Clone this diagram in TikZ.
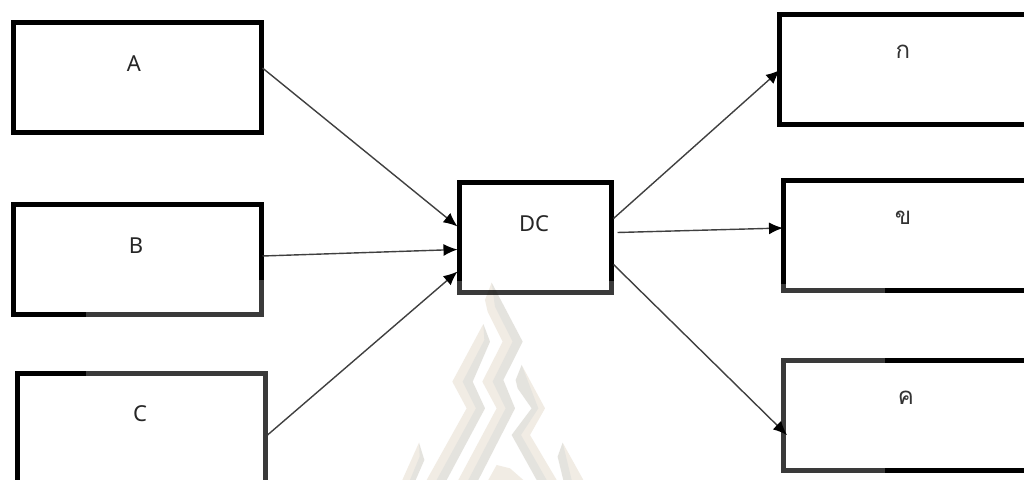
\documentclass[tikz,border=0pt]{standalone}
\usepackage{fontspec}
\setmainfont{Noto Sans}
\newfontfamily\thaifont[Script=Thai]{Loma}
\usetikzlibrary{arrows.meta}
\definecolor{wmbeige}{HTML}{F1ECE4}
\definecolor{wmgray}{HTML}{F2F6F9}
\definecolor{boxdark}{HTML}{3A3A3A}
\tikzset{
  stagebox/.style={draw=black,line width=5pt,fill=white,inner sep=0pt,outer sep=0pt},
  dark edge/.style={draw=boxdark,line width=5pt,line cap=rect},
  tag/.style={inner sep=0pt,font=\fontsize{22}{26}\selectfont,text=black!85},
  thaitag/.style={inner sep=0pt,font=\thaifont\fontsize{24}{28}\selectfont,text=black!80},
  link/.style={draw=black!75,line width=1.4pt,-{Latex[length=14pt,width=12pt,black]}},
  wmb/.style={fill=wmbeige,draw=none},
  wmg/.style={fill=wmgray,draw=none}
}
\begin{document}
\begin{tikzpicture}[x=1pt,y=-1pt]
\useasboundingbox (0,0) rectangle (1024,479);
\clip (0,0) rectangle (1024,479);
\fill[white] (0,0) rectangle (1024,479);
% boxes
\node[stagebox,minimum width=248pt,minimum height=110pt] (A) at (137.5,77) {};
\node[stagebox,minimum width=248pt,minimum height=110pt] (B) at (137.5,259) {};
\node[stagebox,minimum width=248pt,minimum height=120pt] (C) at (141.5,433) {};
\node[stagebox,minimum width=152pt,minimum height=110pt] (DC) at (535.5,237.5) {};
\node[stagebox,minimum width=260pt,minimum height=110pt] (K1) at (909,69) {};
\node[stagebox,minimum width=260pt,minimum height=110pt] (K2) at (913,235) {};
\node[stagebox,minimum width=260pt,minimum height=110pt] (K3) at (913,415) {};
% darker stretches of the box outlines
\draw[dark edge] (88,314) -- (B.south east) -- (261.5,282);
\draw[dark edge] (88,373) -- (C.north east) -- (C.south east);
\draw[dark edge] (DC.south west) -- (DC.south east);
\draw[dark edge] (DC.south west) -- ++(0,-9);
\draw[dark edge] (DC.south east) -- ++(0,-9);
\draw[dark edge] (882,290) -- (K2.south west) -- ++(0,-4);
\draw[dark edge] (882,360) -- (K3.north west) -- (K3.south west) -- (882,470);
% watermark
\begin{scope}[shift={(395,280)},x=0.3333pt,y=-0.3333pt,blend mode=multiply]
\fill[wmb] (290,8)--(383,185)--(325,300)--(360,385)--(250,600)--(190,600)--(305,385)--(262,305)--(323,185)--(278,95)--(270,60)--cycle;
\fill[wmg] (290,8)--(383,185)--(325,300)--(360,385)--(250,600)--(220,600)--(332,385)--(293,305)--(353,185)--(300,80)--cycle;
\fill[wmb] (265,132)--(285,185)--(233,305)--(270,385)--(155,600)--(95,600)--(215,385)--(172,305)--cycle;
\fill[wmg] (265,132)--(285,185)--(233,305)--(270,385)--(155,600)--(125,600)--(243,385)--(203,305)--(268,180)--cycle;
\fill[wmb] (380,255)--(450,385)--(405,465)--(485,600)--(425,600)--(350,465)--(410,385)--(368,325)--(362,300)--cycle;
\fill[wmg] (380,255)--(430,385)--(378,465)--(455,600)--(425,600)--(350,465)--(410,385)--(368,325)--(362,300)--cycle;
\fill[wmb] (72,488)--(88,540)--(62,600)--(22,600)--cycle;
\fill[wmg] (72,488)--(88,540)--(62,600)--(45,600)--(74,530)--cycle;
\fill[wmb] (503,488)--(565,600)--(505,600)--(488,530)--cycle;
\fill[wmg] (503,488)--(530,600)--(505,600)--(488,530)--cycle;
\fill[wmb] (305,555)--(345,565)--(385,600)--(280,600)--cycle;
\end{scope}
% labels
\node[tag] (lA) at (134,64) {A};
\node[tag] (lB) at (136,246) {B};
\node[tag] (lC) at (140,414) {C};
\node[tag] (lDC) at (534,224) {DC};
\node[thaitag] (lK1) at (903,52) {ก};
\node[thaitag] (lK2) at (903,218) {ข};
\node[thaitag] (lK3) at (906,398) {ค};
% connectors
\draw[link] ([yshift=9pt,xshift=1pt]A.east) -- ([yshift=11pt,xshift=-2pt]DC.west);
\draw[link] ([yshift=3pt,xshift=1pt]B.east) -- ([yshift=-12pt,xshift=-2pt]DC.west);
\draw[link] ([yshift=-2pt,xshift=2pt]C.east) -- ([yshift=-34pt,xshift=-2pt]DC.west);
\draw[link] ([yshift=19pt,xshift=2pt]DC.east) -- ([yshift=-1pt,xshift=1pt]K1.west);
\draw[link] ([yshift=5pt,xshift=6pt]DC.east) -- ([yshift=7pt]K2.west);
\draw[link] ([yshift=-27pt,xshift=2pt]DC.east) -- ([yshift=-20pt,xshift=4pt]K3.west);
\end{tikzpicture}
\end{document}
